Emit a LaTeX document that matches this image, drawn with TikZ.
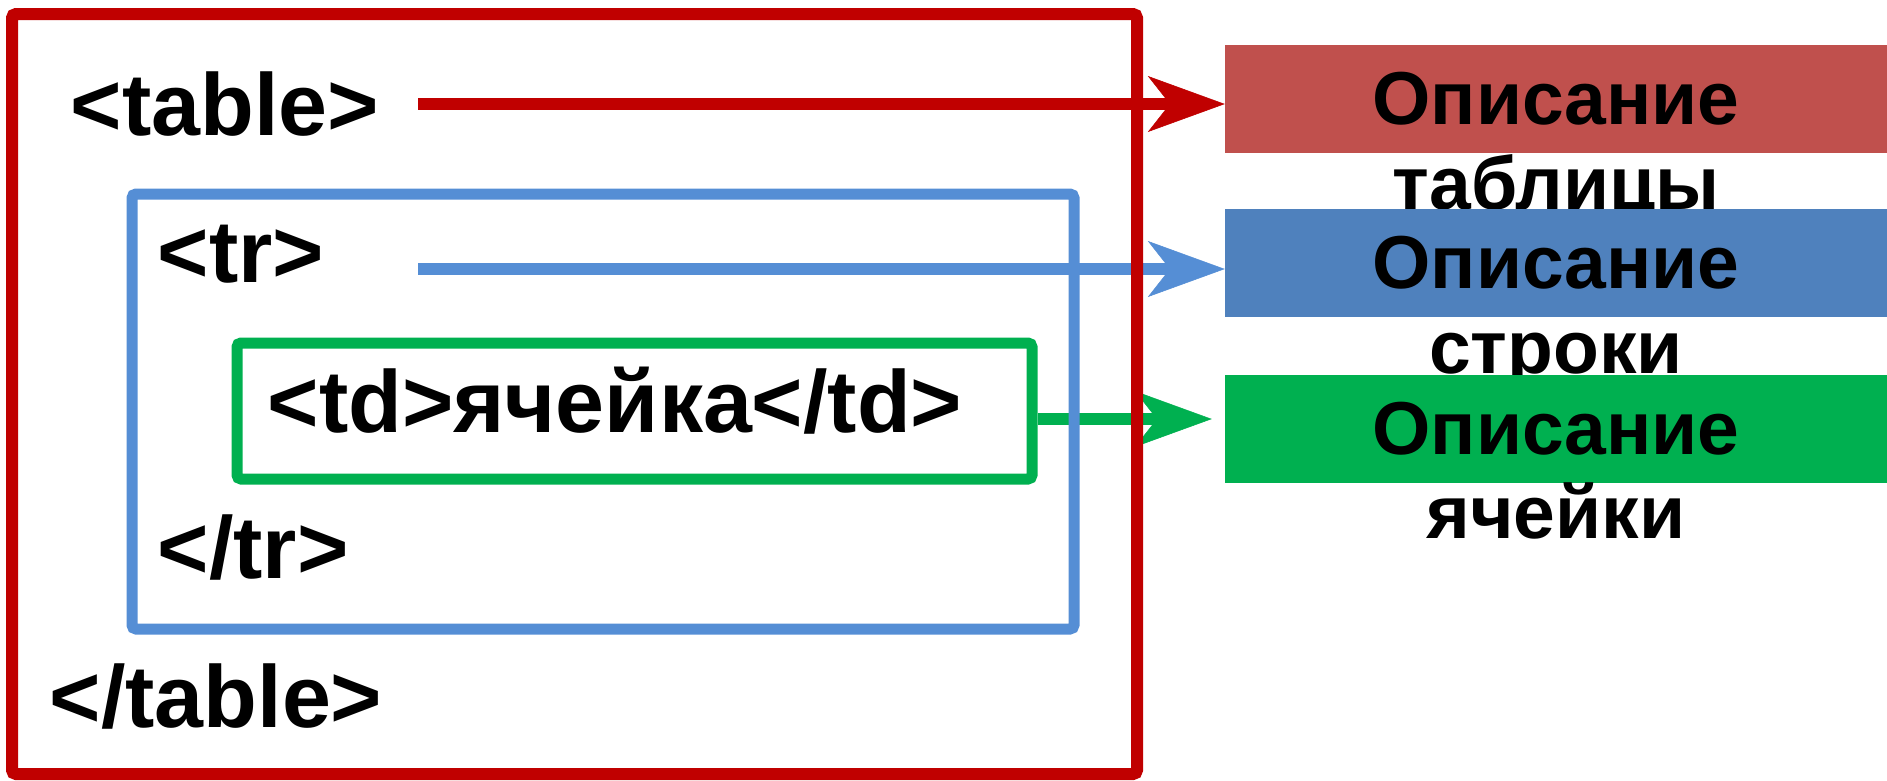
\documentclass[tikz,border=0pt]{standalone}
\usepackage{fontspec}
\setmainfont{Liberation Sans}
\usetikzlibrary{arrows.meta,backgrounds}
\definecolor{framered}{HTML}{C00000}
\definecolor{frameblue}{HTML}{558ED5}
\definecolor{framegreen}{HTML}{00B050}
\definecolor{boxred}{HTML}{C0504D}
\definecolor{boxblue}{HTML}{4F81BD}
\begin{document}
\begin{tikzpicture}[x=1pt,y=-1pt,
  tagtext/.style={inner sep=0pt,anchor=base west,font=\bfseries\fontsize{88}{105}\selectfont},
  tagframe/.style={draw,rounded corners=4pt,inner sep=0pt},
  descbox/.style={inner sep=0pt,minimum width=662pt,minimum height=108pt,label distance=6pt,font=\bfseries\fontsize{75}{90}\selectfont},
  desclabel/.style={inner sep=0pt,text height=56pt,text depth=0pt,font=\bfseries\fontsize{75}{90}\selectfont},
  descarrow/.style={line width=12pt,-{Stealth[length=77pt,width=56pt,inset=22pt,line width=0.5pt]}}]
\useasboundingbox (0,0) rectangle (1887,780);
% html tags
\node[tagtext] (tabletag) at (70.5,135) {<table>};
\node[tagtext] (trtag) at (157.5,282) {<tr>};
\node[tagtext] (tdtag) at (267.5,432) {<td>ячейка</td>};
\node[tagtext] (trclose) at (157.5,578) {</tr>};
\node[tagtext] (tableclose) at (49.5,727) {</table>};
% frames
\node[tagframe,framered,line width=12pt,minimum width=1125pt,minimum height=760pt] (tableframe) at (574.5,394) {};
\node[tagframe,frameblue,line width=11pt,minimum width=942pt,minimum height=435pt] (trframe) at (603,411.5) {};
\node[tagframe,framegreen,line width=11pt,minimum width=795pt,minimum height=136pt] (tdframe) at (634.5,411) {};
% descriptions
\node[descbox,fill=boxred,label={[desclabel]below:таблицы}] (tabledesc) at (1556,99) {Описание};
\node[descbox,fill=boxblue,label={[desclabel]below:строки}] (trdesc) at (1556,263) {Описание};
\node[descbox,fill=framegreen,label={[desclabel]below:ячейки}] (tddesc) at (1556,428.5) {Описание};
% arrows
\coordinate (tablestart) at (418,104);
\coordinate (trstart) at (418,269);
\coordinate (tdstart) at ([yshift=-8pt]tdframe.east);
\begin{scope}[on background layer]
\draw[descarrow,framered] (tablestart) -- (tablestart -| tabledesc.west);
\draw[descarrow,frameblue] (trstart) -- (trstart -| trdesc.west);
\draw[descarrow,framegreen,shorten >=13pt] (tdstart) -- (tdstart -| tddesc.west);
\end{scope}
\end{tikzpicture}
\end{document}
